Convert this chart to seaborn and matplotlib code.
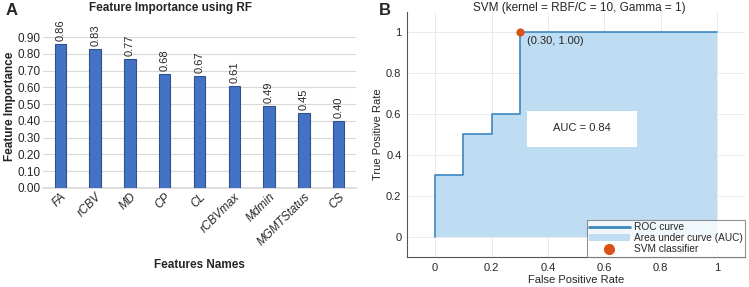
import matplotlib
matplotlib.use("Agg")
import matplotlib.pyplot as plt
import seaborn as sns
from matplotlib.patches import Rectangle, Patch
from matplotlib.lines import Line2D

# Panel A data
features = ["FA", "rCBV", "MD", "CP", "CL", "rCBVmax", "Mdmin", "MGMTStatus", "CS"]
importance = [0.86, 0.83, 0.77, 0.68, 0.67, 0.61, 0.49, 0.45, 0.40]
y_ticks = [0.0, 0.1, 0.2, 0.3, 0.4, 0.5, 0.6, 0.7, 0.8, 0.9]

# Panel B data (ROC steps)
fpr = [0, 0, 0.1, 0.1, 0.2, 0.2, 0.3, 0.3, 1.0]
tpr = [0, 0.3, 0.3, 0.5, 0.5, 0.6, 0.6, 1.0, 1.0]
best_point = (0.30, 1.00)
auc = 0.84

line_col = "#3B87C0"
fill_col = "#BEDDF2"
dot_col = "#D95319"

sns.set_theme(style="white")
plt.rcParams["font.family"] = ["Liberation Sans", "DejaVu Sans"]

fig = plt.figure(figsize=(7.49, 2.87), dpi=100)

# ---- Panel A
ax1 = fig.add_axes([0.0574, 0.345, 0.418, 0.526])
sns.barplot(x=features, y=importance, color="#4472C4", edgecolor="#2F528F",
            linewidth=0.8, width=0.33, saturation=1, ax=ax1, zorder=3)
ax1.set_ylim(0, 0.9)
ax1.set_xlim(-0.5, len(features) - 0.5)
ax1.set_yticks(y_ticks)
ax1.set_yticklabels([f"{v:.2f}" for v in y_ticks], fontsize=8.5)
ax1.yaxis.grid(True, color="#d9d9d9", linewidth=0.8, zorder=0)
for s in ["top", "right", "left"]:
    ax1.spines[s].set_visible(False)
ax1.spines["bottom"].set_color("#d9d9d9")
ax1.tick_params(axis="both", length=0, pad=2)
ax1.set_xticks(range(len(features)))
ax1.set_xticklabels(features, rotation=45, ha="right", rotation_mode="anchor",
                    fontsize=8.5, style="italic")
for i, v in enumerate(importance):
    ax1.text(i, v + 0.015, f"{v:.2f}", rotation=90, ha="center", va="bottom",
             fontsize=8, clip_on=False)
ax1.set_ylabel("Feature Importance", fontsize=8.5, fontweight="bold")
ax1.yaxis.set_label_coords(-0.086, 0.543)
ax1.set_xlabel("Features Names", fontsize=8.5, fontweight="bold")
ax1.xaxis.set_label_coords(0.5, -0.47)

# ---- Panel B
ax2 = fig.add_axes([0.5434, 0.1045, 0.4513, 0.855])
ax2.fill_between(fpr, tpr, 0, color=fill_col, linewidth=0, zorder=1)
sns.lineplot(x=fpr, y=tpr, sort=False, estimator=None, color=line_col,
             linewidth=1.2, ax=ax2, zorder=3)
ax2.scatter([best_point[0]], [best_point[1]], s=24, color=dot_col,
            zorder=4, clip_on=False)
ax2.text(best_point[0] + 0.025, best_point[1] - 0.045,
         f"({best_point[0]:.2f}, {best_point[1]:.2f})", fontsize=8,
         ha="left", va="center", zorder=5)
ax2.add_patch(Rectangle((0.327, 0.44), 0.388, 0.175, facecolor="white",
                        edgecolor="none", zorder=4))
ax2.text(0.521, 0.53, f"AUC = {auc:.2f}", fontsize=8, ha="center",
         va="center", zorder=5)
ax2.set_xlim(-0.1, 1.1)
ax2.set_ylim(-0.1, 1.1)
ticks = [0, 0.2, 0.4, 0.6, 0.8, 1]
ax2.set_xticks(ticks)
ax2.set_yticks(ticks)
ax2.set_xticklabels(["0", "0.2", "0.4", "0.6", "0.8", "1"], fontsize=8)
ax2.set_yticklabels(["0", "0.2", "0.4", "0.6", "0.8", "1"], fontsize=8)
ax2.grid(True, color="#ebebeb", linewidth=0.7, zorder=0)
ax2.set_axisbelow(True)
for s in ["top", "right"]:
    ax2.spines[s].set_visible(False)
for s in ["left", "bottom"]:
    ax2.spines[s].set_color("#555555")
    ax2.spines[s].set_linewidth(0.8)
ax2.tick_params(axis="both", length=2, direction="in", color="#555555", pad=4)
ax2.set_xlabel("False Positive Rate", fontsize=8)
ax2.xaxis.set_label_coords(0.5, -0.073)
ax2.set_ylabel("True Positive Rate", fontsize=8)
ax2.yaxis.set_label_coords(-0.072, 0.5)
handles = [
    Line2D([], [], color=line_col, linewidth=2),
    Patch(facecolor=fill_col, edgecolor="none"),
    Line2D([], [], linestyle="none", marker="o", markersize=7,
           color=dot_col),
]
leg = ax2.legend(handles, ["ROC curve", "Area under curve (AUC)", "SVM classifier"],
                 loc="lower right", fontsize=7.3, frameon=True, fancybox=False,
                 borderaxespad=0, handlelength=4.0, handletextpad=0.4,
                 labelspacing=0.1, borderpad=0.25)
leg.get_frame().set_edgecolor("#777777")
leg.get_frame().set_linewidth(0.8)

# titles and panel letters
fig.text(0.227, 0.972, "Feature Importance using RF", fontsize=8.5,
         fontweight="bold", ha="center", va="center")
fig.text(0.774, 0.972, "SVM (kernel = RBF/C = 10, Gamma = 1)", fontsize=8.5,
         ha="center", va="center")
fig.text(0.016, 0.965, "A", fontsize=12, fontweight="bold", ha="center", va="center")
fig.text(0.514, 0.965, "B", fontsize=12, fontweight="bold", ha="center", va="center")

fig.savefig("out.png", dpi=100)
